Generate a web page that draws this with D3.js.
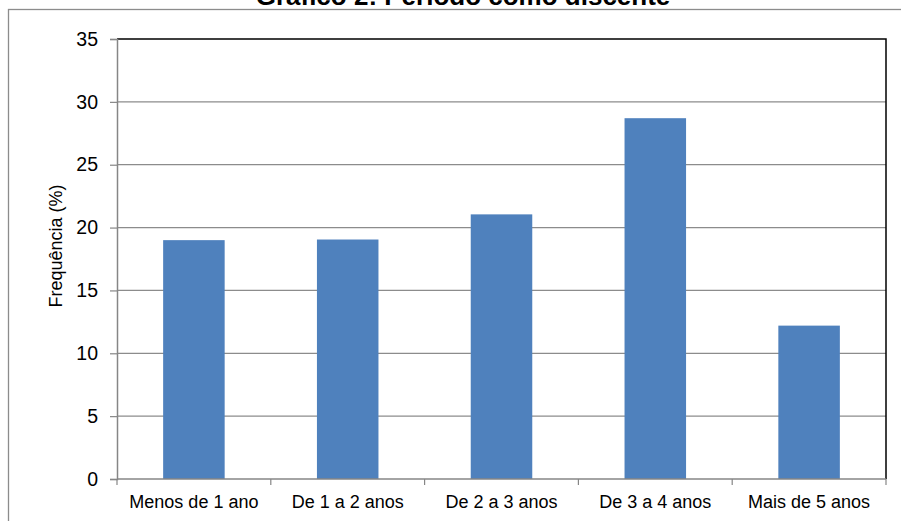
<!DOCTYPE html>
<html>
<head>
<meta charset="utf-8">
<script src="https://cdn.jsdelivr.net/npm/d3@7"></script>
<style>
  html, body { margin: 0; padding: 0; background: #fff; }
  svg { display: block; font-family: "Liberation Sans", Arial, sans-serif; }
</style>
</head>
<body>
<svg id="chart" width="901" height="521"></svg>
<script>
const categories = ["Menos de 1 ano", "De 1 a 2 anos", "De 2 a 3 anos", "De 3 a 4 anos", "Mais de 5 anos"];
const values = [19.0, 19.05, 21.05, 28.7, 12.2];
const yTicks = [0, 5, 10, 15, 20, 25, 30, 35];
const titleText = "Gráfico 2: Período como discente";
const yLabel = "Frequência (%)";

const svg = d3.select("#chart");
const m = { left: 117, right: 886, top: 39, bottom: 479 };

// outer chart frame
svg.append("rect")
  .attr("x", 8.5).attr("y", 9.5)
  .attr("width", 1000).attr("height", 1000)
  .attr("fill", "none").attr("stroke", "#8c8c8c").attr("stroke-width", 1.3);

// title (cut off at top edge, as in the reference)
svg.append("text")
  .attr("x", 463).attr("y", 5)
  .attr("text-anchor", "middle")
  .attr("font-size", 26).attr("font-weight", "bold")
  .attr("fill", "#000")
  .text(titleText);

const x = d3.scaleBand().domain(categories).range([m.left, m.right]).paddingInner(0.6).paddingOuter(0.3);
const xb = d3.scaleBand().domain(categories).range([m.left, m.right]);
const y = d3.scaleLinear().domain([0, 35]).range([m.bottom, m.top]);

// gridlines
svg.append("g").selectAll("line")
  .data(yTicks.filter(d => d > 0 && d < 35))
  .join("line")
  .attr("x1", m.left).attr("x2", m.right)
  .attr("y1", d => y(d)).attr("y2", d => y(d))
  .attr("stroke", "#8c8c8c").attr("stroke-width", 1.2);

// plot area border top/right (black)
svg.append("path")
  .attr("d", `M${m.left},${y(35)}H${m.right}V${m.bottom}`)
  .attr("fill", "none").attr("stroke", "#000").attr("stroke-width", 1.5);

// bars
svg.append("g").selectAll("rect")
  .data(values)
  .join("rect")
  .attr("x", (d, i) => x(categories[i]))
  .attr("width", x.bandwidth())
  .attr("y", d => y(d))
  .attr("height", d => y(0) - y(d))
  .attr("fill", "#4F81BD");

// y axis
const yAxis = d3.axisLeft(y).tickValues(yTicks).tickSize(7).tickPadding(12);
const gy = svg.append("g").attr("transform", `translate(${m.left},0)`).call(yAxis);
gy.select(".domain").attr("stroke", "#868686").attr("stroke-width", 1.5);
gy.selectAll(".tick line").attr("stroke", "#868686").attr("stroke-width", 1.2);
gy.selectAll(".tick text").attr("font-size", 19.5).attr("fill", "#000")
  .attr("font-family", "Liberation Sans, Arial, sans-serif");

// x axis
const gx = svg.append("g").attr("transform", `translate(0,${m.bottom})`);
gx.append("line").attr("x1", m.left).attr("x2", m.right).attr("y1", 0).attr("y2", 0)
  .attr("stroke", "#868686").attr("stroke-width", 1.5);
const bounds = categories.map(c => xb(c)).concat([m.right]);
gx.selectAll("line.tk").data(bounds).join("line").attr("class", "tk")
  .attr("x1", d => d).attr("x2", d => d).attr("y1", 0).attr("y2", 6)
  .attr("stroke", "#868686").attr("stroke-width", 1.2);
gx.selectAll("text").data(categories).join("text")
  .attr("x", d => xb(d) + xb.bandwidth() / 2)
  .attr("y", 29)
  .attr("text-anchor", "middle")
  .attr("font-size", 18).attr("fill", "#000")
  .text(d => d);

// y label
svg.append("text")
  .attr("transform", `translate(62,246) rotate(-90)`)
  .attr("text-anchor", "middle")
  .attr("font-size", 18).attr("fill", "#000")
  .text(yLabel);
</script>
</body>
</html>
